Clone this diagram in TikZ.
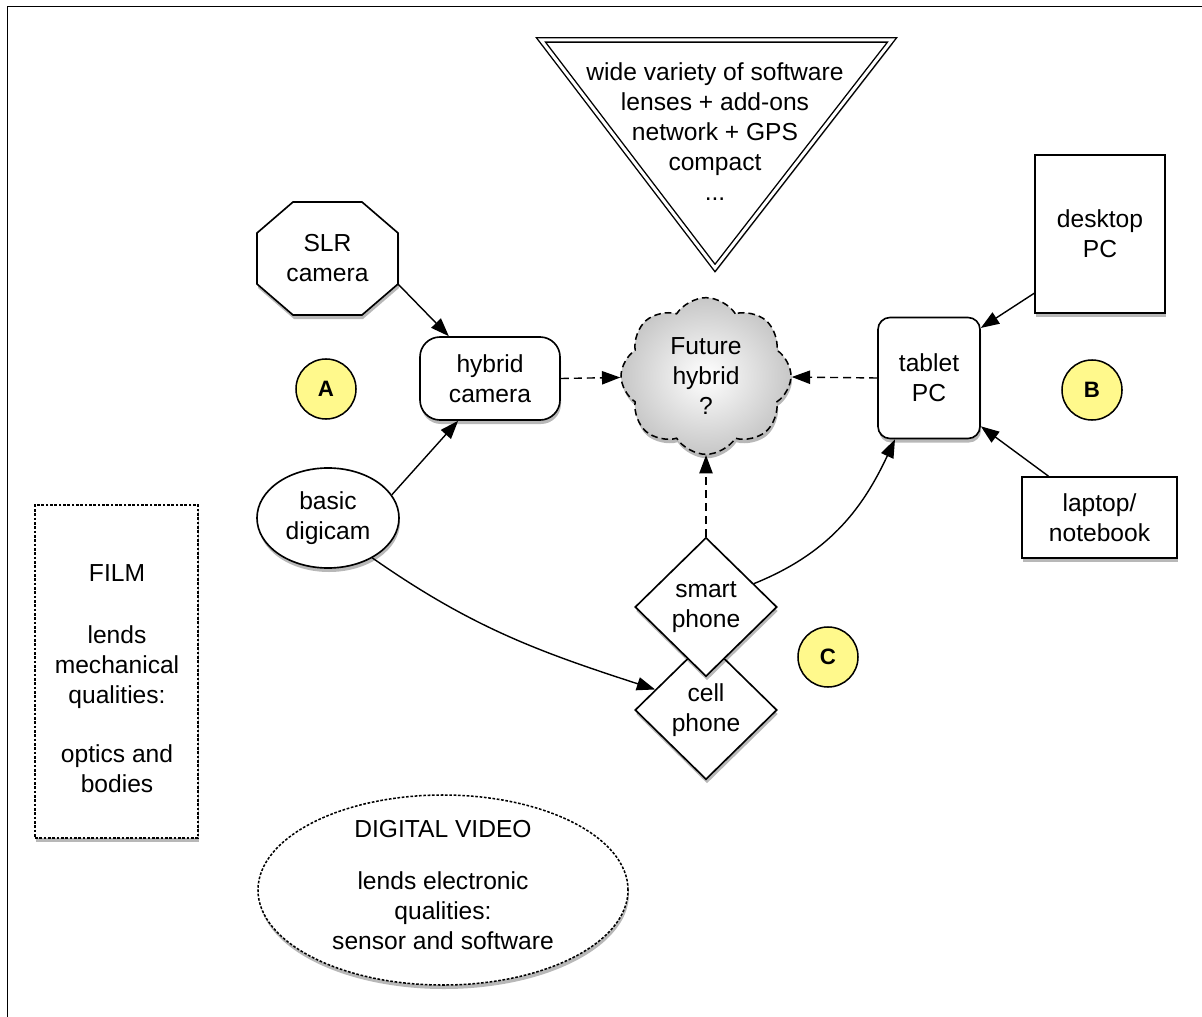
\documentclass[tikz,border=0pt]{standalone}
\usepackage{fontspec}
\setmainfont{Liberation Sans}
\usetikzlibrary{shapes.geometric,shapes.symbols,shadows,arrows.meta}
\begin{document}
\begin{tikzpicture}[x=0.03cm,y=-0.03cm, font=\fontsize{21pt}{25.6pt}\selectfont,
  bd/.style={draw=black, line width=1.4pt, fill=white},
  shad/.style={drop shadow={shadow xshift=0.03cm, shadow yshift=-0.12cm, opacity=0.28, fill=black}},
  arr/.style={line width=1.2pt, -{Triangle[length=0.55cm,width=0.4cm]}},
  dsh/.style={arr, dash pattern=on 0.24cm off 0.15cm},
  badge/.style={circle, draw, line width=1.3pt, fill=yellow!45, minimum size=1.8cm, inner sep=0pt, font=\fontsize{19pt}{23pt}\selectfont\bfseries},
  txt/.style={align=center, inner sep=0pt},
  dotbox/.style={draw, line width=1.3pt, fill=white, dash pattern=on 0.08cm off 0.05cm},
]
\useasboundingbox (0,0) rectangle (1202,1017);
\fill[white] (0,0) rectangle (1202,1017);
\draw[line width=1.5pt] (7.5,1017) -- (7.5,6.5) -- (1202,6.5);

% feature triangle
\draw[line width=1.2pt, double=white, double distance=0.09cm, shad, fill=white] (541,40) -- (892,40) -- (715,268) -- cycle;
\node[txt] (feat) at (715,132) {wide variety of software\\lenses + add-ons\\network + GPS\\compact\\...};

% SLR octagon
\draw[bd, shad] (293,202) -- (362,202) -- (398,233) -- (398,284) -- (362,315) -- (293,315) -- (257,284) -- (257,233) -- cycle;
\node[txt, minimum width=4.23cm, minimum height=3.39cm] (slr) at (327.5,258.5) {SLR\\camera};

\node[bd, shad, rounded corners=0.6cm, minimum width=4.2cm, minimum height=2.49cm, txt] (hyb) at (490,378.5) {hybrid\\camera};
\node[badge] (A) at (326,389) {A};
\node[bd, shad, ellipse, minimum width=4.26cm, minimum height=3.0cm, txt] (dig) at (328,518) {basic\\digicam};

\node[draw=black, line width=1.3pt, shad, cloud, cloud puffs=8, cloud puff arc=115, aspect=1.05, minimum width=5.1cm, minimum height=4.7cm, shading=radial, inner color=white, outer color=black!22, dash pattern=on 0.2cm off 0.12cm, txt] (fut) at (706,376) {Future\\hybrid\\?};

\node[bd, shad, rounded corners=0.36cm, minimum width=3.06cm, minimum height=3.63cm, txt] (tab) at (929,378) {tablet\\PC};
\node[bd, shad, minimum width=3.9cm, minimum height=4.74cm, txt] (desk) at (1100,234) {desktop\\PC};
\node[badge] (B) at (1092,390) {B};
\node[bd, shad, minimum width=4.65cm, minimum height=2.43cm, txt] (lap) at (1099.5,517.5) {laptop/\\notebook};

\node[bd, shad, diamond, aspect=1, minimum width=4.26cm, minimum height=4.17cm, txt] (cell) at (706,710) {cell\\phone};
\node[bd, shad, diamond, aspect=1, minimum width=4.26cm, minimum height=4.17cm, txt] (sm) at (706,607) {smart\\phone};
\node[badge] (C) at (828,657) {C};

% FILM
\node[dotbox, shad, minimum width=4.89cm, minimum height=9.99cm] (filmbox) at (116.5,671.5) {};
\node[txt] (film) at (117,679) {FILM\\[0.96cm]lends\\mechanical\\qualities:\\[0.87cm]optics and\\bodies};

% DIGITAL VIDEO
\node[dotbox, shad, ellipse, minimum width=11.1cm, minimum height=5.7cm] (dvbox) at (443,890) {};
\node[txt] (dv) at (443,885) {DIGITAL VIDEO\\[0.66cm]lends electronic\\qualities:\\sensor and software};

% connectors
\draw[arr] (slr.-20) -- (hyb);
\draw[arr] (dig.20) -- (hyb.233);
\draw[dsh] (hyb.east) -- (fut);
\draw[dsh] (tab.west) -- (fut);
\draw[dsh] (sm.north) -- (fut);
\draw[arr] (desk.222) -- (tab.44);
\draw[arr] (lap.141) -- (tab.-43);
\draw[arr] (sm.26) to[out=22, in=-115] (tab.241);
\draw[arr] (dig.-42) to[out=-35, in=162] (cell.158);
\end{tikzpicture}
\end{document}
